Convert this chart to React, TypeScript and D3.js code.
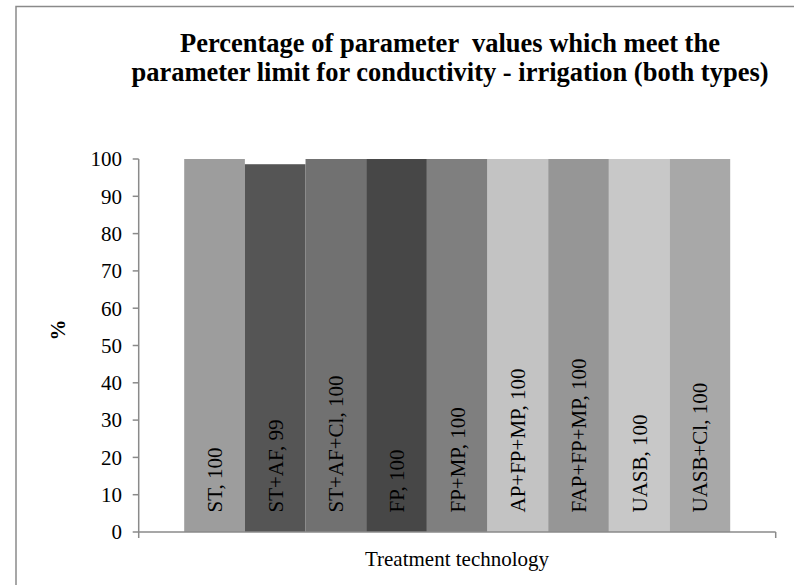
import React from "react";
import * as d3 from "d3";

const categories = ["ST", "ST+AF", "ST+AF+Cl", "FP", "FP+MP", "AP+FP+MP", "FAP+FP+MP", "UASB", "UASB+Cl"];
const values = [100, 98.6, 100, 100, 100, 100, 100, 100, 100];
const labelValues = [100, 99, 100, 100, 100, 100, 100, 100, 100];
const colors = ["#9d9d9d", "#555555", "#717171", "#474747", "#7f7f7f", "#c3c3c3", "#969696", "#c8c8c8", "#a8a8a8"];
const yTicks = [0, 10, 20, 30, 40, 50, 60, 70, 80, 90, 100];
const titleLines = [
  "Percentage of parameter  values which meet the",
  "parameter limit for conductivity - irrigation (both types)",
];

const W = 794;
const H = 585;
const plotLeft = 138.7;
const plotRight = 775.7;
const plotTop = 159;
const plotBottom = 532;
const font = "'Liberation Serif', 'Times New Roman', serif";

export default function App() {
  const y = d3.scaleLinear().domain([0, 100]).range([plotBottom, plotTop]);
  const outer = d3.scaleBand().domain(["all"]).range([plotLeft, plotRight]).paddingInner(0).paddingOuter(0);
  const groupW = outer.bandwidth();
  const barsW = groupW / (1 + 1.5 * (1 / categories.length));
  const gap = (groupW - barsW) / 2;
  const x = d3
    .scaleBand()
    .domain(categories)
    .range([(outer("all") as number) + gap, (outer("all") as number) + gap + barsW])
    .padding(0);

  return (
    <svg width={W} height={H} style={{ position: "absolute", left: 0, top: 0 }} fontFamily={font}>
      <rect x={0} y={0} width={W} height={H} fill="#fff" />
      <path d={`M16,${H} L16,6.5 L${W},6.5`} fill="none" stroke="#8a8a8a" strokeWidth={1.5} />
      {titleLines.map((t, i) => (
        <text key={i} x={450} y={52 + i * 29} textAnchor="middle" fontWeight="bold" fontSize={26.5} style={{ whiteSpace: "pre" }}>
          {t}
        </text>
      ))}
      {categories.map((c, i) => (
        <rect key={c} x={x(c)} y={y(values[i])} width={x.bandwidth()} height={plotBottom - y(values[i])} fill={colors[i]} />
      ))}
      {categories.map((c, i) => (
        <text
          key={"l" + c}
          transform={`translate(${(x(c) as number) + x.bandwidth() / 2},512.5) rotate(-90)`}
          dy="0.35em"
          fontSize={21}
          fill="#000"
        >
          {`${c}, ${labelValues[i]}`}
        </text>
      ))}
      <line x1={plotLeft} x2={plotLeft} y1={plotTop} y2={plotBottom} stroke="#8a8a8a" strokeWidth={1.5} />
      {yTicks.map((t) => (
        <g key={t}>
          <line x1={plotLeft - 6} x2={plotLeft} y1={y(t)} y2={y(t)} stroke="#8a8a8a" strokeWidth={1.5} />
          <text x={122} y={y(t)} dy="0.35em" textAnchor="end" fontSize={21}>
            {t}
          </text>
        </g>
      ))}
      <line x1={plotLeft} x2={plotRight} y1={plotBottom} y2={plotBottom} stroke="#8a8a8a" strokeWidth={1.5} />
      <line x1={plotLeft} x2={plotLeft} y1={plotBottom} y2={plotBottom + 6} stroke="#8a8a8a" strokeWidth={1.5} />
      <line x1={plotRight} x2={plotRight} y1={plotBottom} y2={plotBottom + 6} stroke="#8a8a8a" strokeWidth={1.5} />
      <text x={457} y={566} textAnchor="middle" fontSize={21}>
        Treatment technology
      </text>
      <text transform={`translate(58,330) rotate(-90)`} dy="0.35em" textAnchor="middle" fontWeight="bold" fontSize={21}>
        %
      </text>
    </svg>
  );
}
